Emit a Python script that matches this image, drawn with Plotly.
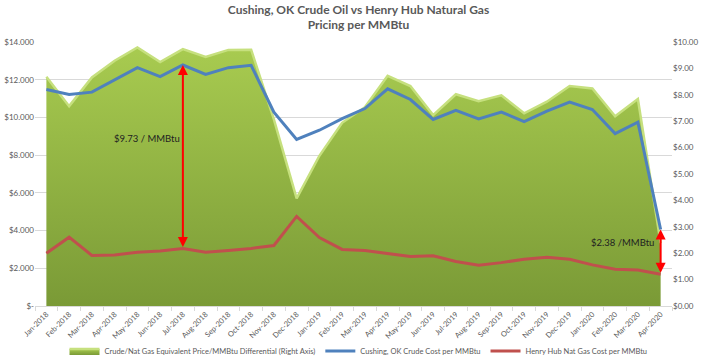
import plotly.graph_objects as go

months = ["Jan-2018", "Feb-2018", "Mar-2018", "Apr-2018", "May-2018", "Jun-2018", "Jul-2018",
          "Aug-2018", "Sep-2018", "Oct-2018", "Nov-2018", "Dec-2018", "Jan-2019", "Feb-2019",
          "Mar-2019", "Apr-2019", "May-2019", "Jun-2019", "Jul-2019", "Aug-2019", "Sep-2019",
          "Oct-2019", "Nov-2019", "Dec-2019", "Jan-2020", "Feb-2020", "Mar-2020", "Apr-2020"]

# Cushing, OK crude cost per MMBtu (left axis)
crude = [11.48, 11.22, 11.34, 12.00, 12.64, 12.16, 12.78, 12.28, 12.64, 12.76, 10.28, 8.83,
         9.32, 9.94, 10.47, 11.52, 10.95, 9.89, 10.38, 9.92, 10.28, 9.78, 10.33, 10.81,
         10.42, 9.14, 9.75, 4.06]

# Henry Hub nat gas cost per MMBtu (left axis)
gas = [2.80, 3.65, 2.68, 2.71, 2.85, 2.92, 3.05, 2.85, 2.94, 3.05, 3.21, 4.75,
       3.63, 3.00, 2.94, 2.80, 2.62, 2.66, 2.36, 2.16, 2.30, 2.48, 2.59, 2.48,
       2.18, 1.95, 1.91, 1.68]

# Crude / nat gas equivalent price differential per MMBtu (right axis)
diff = [8.68, 7.57, 8.66, 9.29, 9.79, 9.24, 9.73, 9.43, 9.70, 9.71, 7.07, 4.08,
        5.69, 6.94, 7.53, 8.72, 8.33, 7.23, 8.02, 7.76, 7.98, 7.30, 7.74, 8.33,
        8.24, 7.19, 7.84, 2.38]

left_ticks = [0, 2, 4, 6, 8, 10, 12, 14]
left_labels = ["$-", "$2.000", "$4.000", "$6.000", "$8.000", "$10.000", "$12.000", "$14.000"]

title_lines = ["Cushing, OK Crude Oil vs Henry Hub Natural Gas", "Pricing per MMBtu"]
note_a = "$9.73 / MMBtu"
note_b = "$2.38 /MMBtu"

FONT = "Lato"
GRAY = "#595959"

fig = go.Figure()

fig.add_trace(go.Scatter(
    x=months, y=diff, yaxis="y", mode="lines",
    name="Crude/Nat Gas Equivalent Price/MMBtu Differential (Right Axis)",
    line=dict(color="#c6e07e", width=2.5),
    fill="tozeroy",
    fillgradient=dict(type="vertical", colorscale=[[0, "#7a9a36"], [1, "#a8cb50"]]),
))
fig.add_trace(go.Scatter(
    x=months, y=crude, yaxis="y2", mode="lines",
    name="Cushing, OK Crude Cost per MMBtu",
    line=dict(color="#4f81bd", width=3),
))
fig.add_trace(go.Scatter(
    x=months, y=gas, yaxis="y2", mode="lines",
    name="Henry Hub Nat Gas Cost per MMBtu",
    line=dict(color="#c0504d", width=3),
))

annotations = []
for i in (6, 27):
    annotations.append(dict(
        x=months[i], y=crude[i], xref="x", yref="y2",
        ax=months[i], ay=gas[i], axref="x", ayref="y2",
        text="", showarrow=True, arrowside="end+start", arrowhead=2,
        arrowsize=1, arrowwidth=2, arrowcolor="#ff0000", standoff=0, startstandoff=0,
    ))
annotations.append(dict(x=0.176, y=0.636, xref="paper", yref="paper", text=note_a,
                        xanchor="center", yanchor="middle",
                        showarrow=False, font=dict(family=FONT, size=9.5, color="#222222")))
annotations.append(dict(x=0.922, y=0.239, xref="paper", yref="paper", text=note_b,
                        xanchor="center", yanchor="middle",
                        showarrow=False, font=dict(family=FONT, size=9.5, color="#222222")))

fig.update_layout(
    width=717, height=363,
    margin=dict(l=35, r=45, t=42, b=57),
    paper_bgcolor="white", plot_bgcolor="white",
    font=dict(family=FONT, size=8, color=GRAY),
    title=dict(text="<b>" + title_lines[0] + "<br>" + title_lines[1] + "</b>",
               x=0.5, xanchor="center", y=0.962, yanchor="middle",
               font=dict(family=FONT, size=12, color=GRAY)),
    showlegend=True,
    legend=dict(orientation="h", x=0.5, xanchor="center", xref="container",
                y=0.033, yanchor="middle", yref="container",
                font=dict(family=FONT, size=7.5, color=GRAY), bgcolor="rgba(0,0,0,0)",
                itemwidth=30, tracegroupgap=0),
    xaxis=dict(type="category", range=[-0.5, 27.5], tickangle=-45, automargin=False,
               showgrid=False, showline=True, linecolor="#d9d9d9", linewidth=1,
               ticks="outside", tickson="boundaries", ticklen=4, tickcolor="#d9d9d9",
               tickfont=dict(family=FONT, size=7.5, color=GRAY)),
    yaxis=dict(side="right", range=[0, 10], tickvals=list(range(11)), tickformat="$.2f",
               showgrid=False, zeroline=False, showline=False, automargin=False,
               tickfont=dict(family=FONT, size=8, color=GRAY)),
    yaxis2=dict(side="left", overlaying="y", range=[0, 14], tickvals=left_ticks,
                ticktext=left_labels, showgrid=True, gridcolor="#d9d9d9", gridwidth=1,
                zeroline=False, showline=False, automargin=False,
                tickfont=dict(family=FONT, size=8, color=GRAY)),
    annotations=annotations,
)

fig.write_html("out.html", config={"displayModeBar": False},
               post_script="document.body.style.margin='0px';")
